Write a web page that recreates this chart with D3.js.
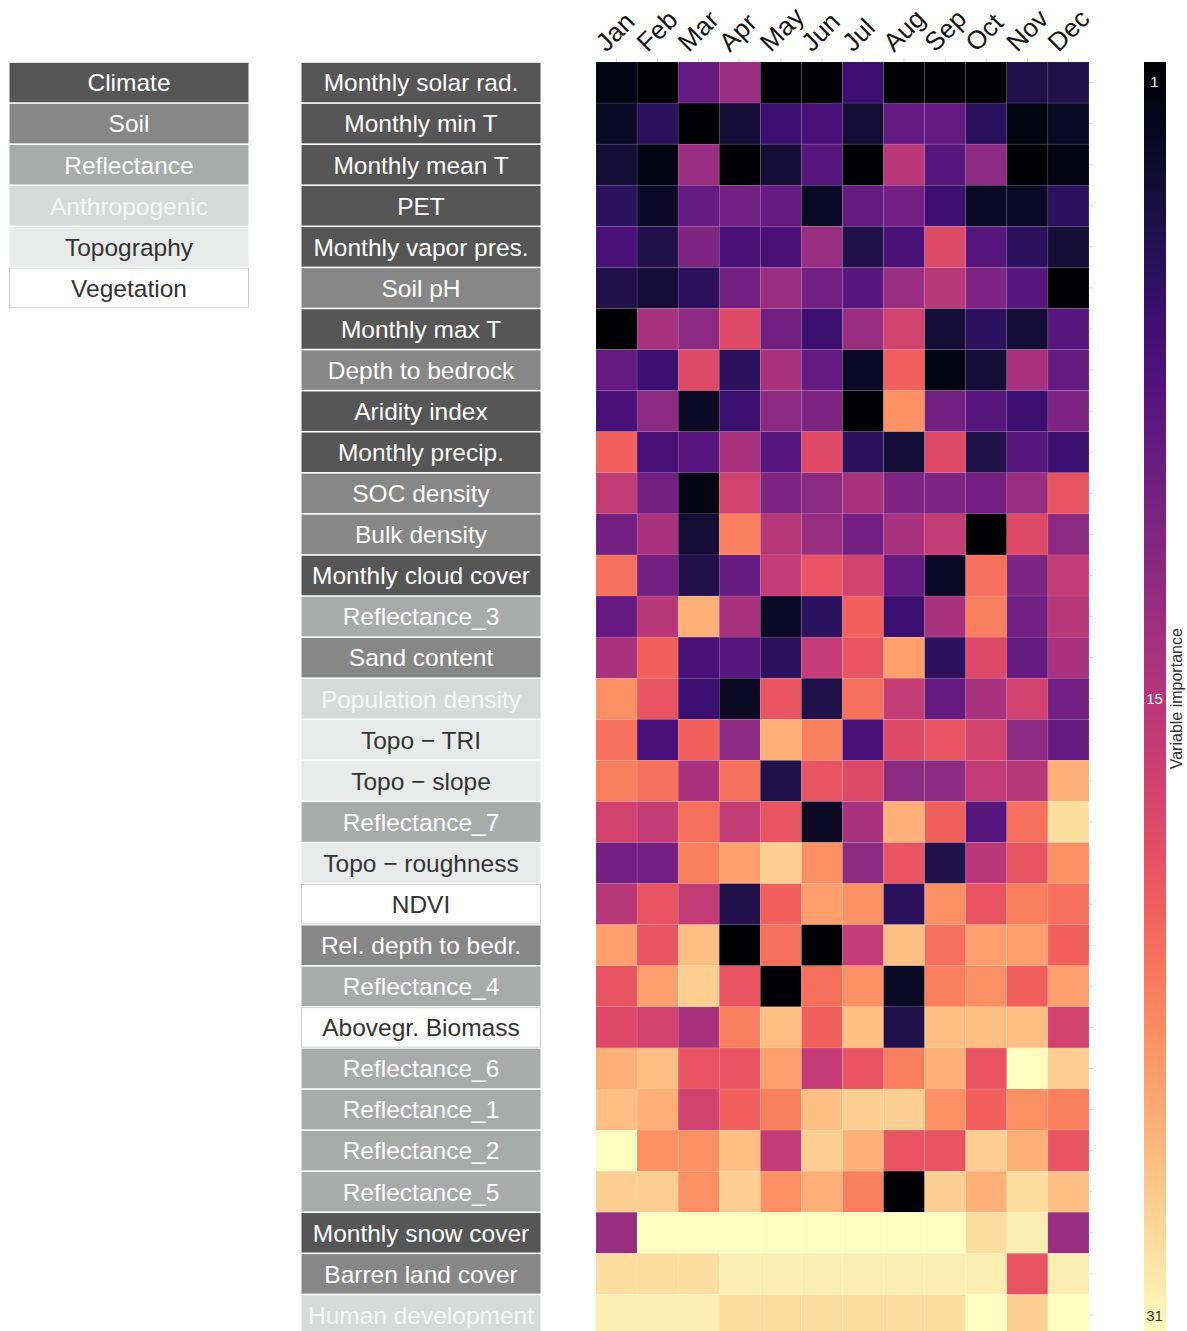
<!DOCTYPE html>
<html>
<head>
<meta charset="utf-8">
<script src="https://cdn.jsdelivr.net/npm/d3@7"></script>
<style>
  body { margin: 0; background: #ffffff; }
  svg { display: block; font-family: "Liberation Sans", Arial, sans-serif; }
</style>
</head>
<body>
<svg id="chart" width="1187" height="1331"></svg>
<script>
// Months along the top of the heatmap
const months = ["Jan", "Feb", "Mar", "Apr", "May", "Jun", "Jul", "Aug", "Sep", "Oct", "Nov", "Dec"];

// Predictor variables, top to bottom
const variables = [
  "Monthly solar rad.", "Monthly min T", "Monthly mean T", "PET", "Monthly vapor pres.",
  "Soil pH", "Monthly max T", "Depth to bedrock", "Aridity index", "Monthly precip.",
  "SOC density", "Bulk density", "Monthly cloud cover", "Reflectance_3", "Sand content",
  "Population density", "Topo \u2212 TRI", "Topo \u2212 slope", "Reflectance_7", "Topo \u2212 roughness",
  "NDVI", "Rel. depth to bedr.", "Reflectance_4", "Abovegr. Biomass", "Reflectance_6",
  "Reflectance_1", "Reflectance_2", "Reflectance_5", "Monthly snow cover", "Barren land cover",
  "Human development"
];

// Group each variable belongs to
const variableGroups = [
  "Climate", "Climate", "Climate", "Climate", "Climate",
  "Soil", "Climate", "Soil", "Climate", "Climate",
  "Soil", "Soil", "Climate", "Reflectance", "Soil",
  "Anthropogenic", "Topography", "Topography", "Reflectance", "Topography",
  "Vegetation", "Soil", "Reflectance", "Vegetation", "Reflectance",
  "Reflectance", "Reflectance", "Reflectance", "Climate", "Soil",
  "Anthropogenic"
];

// Group legend entries
const groups = ["Climate", "Soil", "Reflectance", "Anthropogenic", "Topography", "Vegetation"];

// Importance rank per variable (rows) and month (columns); 1 = most important
const importance = [
  [2, 1, 10, 14, 1, 1, 7, 1, 1, 1, 5, 5],
  [3, 6, 1, 4, 7, 8, 4, 10, 10, 6, 2, 3],
  [4, 2, 14, 1, 4, 9, 1, 16, 9, 13, 1, 2],
  [6, 3, 10, 11, 10, 3, 10, 11, 7, 3, 3, 6],
  [8, 5, 12, 8, 8, 14, 5, 8, 19, 9, 6, 4],
  [5, 4, 6, 11, 14, 11, 9, 14, 16, 12, 9, 1],
  [1, 15, 13, 19, 11, 7, 14, 18, 4, 6, 4, 9],
  [10, 7, 19, 6, 15, 10, 3, 21, 2, 4, 15, 10],
  [8, 13, 3, 7, 13, 12, 1, 24, 11, 9, 7, 12],
  [21, 8, 9, 15, 9, 19, 6, 4, 19, 5, 9, 7],
  [17, 11, 2, 18, 12, 13, 15, 12, 12, 11, 14, 20],
  [11, 15, 4, 23, 16, 14, 11, 15, 17, 1, 19, 13],
  [22, 11, 5, 10, 17, 20, 18, 10, 3, 22, 12, 17],
  [10, 16, 26, 15, 3, 6, 21, 7, 15, 23, 11, 16],
  [15, 21, 8, 9, 6, 17, 20, 25, 6, 19, 10, 15],
  [24, 20, 7, 3, 20, 5, 22, 17, 10, 15, 18, 11],
  [22, 8, 21, 13, 26, 23, 8, 19, 20, 18, 13, 10],
  [23, 22, 15, 22, 5, 20, 19, 13, 13, 17, 16, 26],
  [18, 17, 22, 17, 20, 3, 15, 26, 21, 9, 22, 29],
  [11, 11, 23, 25, 28, 24, 13, 20, 5, 16, 20, 24],
  [16, 20, 17, 5, 21, 25, 24, 6, 24, 20, 23, 22],
  [25, 20, 27, 1, 22, 1, 17, 27, 22, 25, 25, 21],
  [20, 25, 28, 20, 1, 22, 24, 3, 23, 24, 21, 25],
  [19, 18, 15, 23, 27, 21, 27, 5, 27, 27, 27, 18],
  [26, 27, 20, 20, 25, 17, 20, 23, 26, 20, 31, 28],
  [27, 26, 18, 21, 23, 27, 28, 28, 24, 21, 24, 23],
  [31, 24, 24, 27, 17, 28, 26, 20, 20, 28, 26, 20],
  [28, 28, 24, 28, 24, 26, 23, 1, 28, 26, 29, 27],
  [14, 31, 31, 31, 31, 31, 31, 31, 31, 29, 30, 14],
  [29, 29, 29, 30, 30, 30, 30, 30, 30, 30, 20, 30],
  [30, 30, 30, 29, 29, 29, 29, 29, 29, 31, 28, 31]
];

// Colour bar labels (top, middle, bottom)
const colorbarLabels = ["1", "15", "31"];
const rankDomain = [1, 31];

// ---- styling ----
const groupStyle = {
  Climate:       { fill: "#565656", text: "#ffffff", stroke: "none" },
  Soil:          { fill: "#878787", text: "#ffffff", stroke: "none" },
  Reflectance:   { fill: "#a9abab", text: "#ffffff", stroke: "none" },
  Anthropogenic: { fill: "#d8dada", text: "#f7f7f7", stroke: "none" },
  Topography:    { fill: "#e9ebeb", text: "#333333", stroke: "none" },
  Vegetation:    { fill: "#ffffff", text: "#333333", stroke: "#cfcfcf" }
};

const cell = 41.08;
const plotTop = 62;
const heatLeft = 596;
const svg = d3.select("#chart");

const x = d3.scaleBand().domain(months).range([heatLeft, heatLeft + cell * months.length]);
const y = d3.scaleBand().domain(variables).range([plotTop, plotTop + cell * variables.length]);
const color = d3.scaleSequential(d3.interpolateMagma).domain(rankDomain);

// faint axis ticks around the heatmap
const topAxis = svg.append("g").attr("transform", `translate(0,${plotTop})`)
  .call(d3.axisTop(x).tickSize(4).tickFormat(""));
topAxis.select(".domain").remove();
topAxis.selectAll("line").attr("stroke", "#dddddd");

const rightAxis = svg.append("g").attr("transform", `translate(${x.range()[1]},0)`)
  .call(d3.axisRight(y).tickSize(4).tickFormat(""));
rightAxis.select(".domain").remove();
rightAxis.selectAll("line").attr("stroke", "#dddddd");

// heatmap tiles
const cells = [];
importance.forEach((row, i) => row.forEach((v, j) => cells.push({ variable: variables[i], month: months[j], value: v })));

svg.append("g").selectAll("rect").data(cells).join("rect")
  .attr("x", d => x(d.month))
  .attr("y", d => y(d.variable))
  .attr("width", x.bandwidth())
  .attr("height", y.bandwidth())
  .attr("fill", d => color(d.value))
  .attr("stroke", "rgba(255,255,255,0.12)")
  .attr("stroke-width", 0.6);

// month labels, rotated
svg.append("g").selectAll("text").data(months).join("text")
  .attr("transform", d => `translate(${x(d) + x.bandwidth() / 2 - 10},53) rotate(-45)`)
  .attr("text-anchor", "start")
  .attr("font-size", 26)
  .attr("fill", "#141414")
  .text(d => d);

// variable label boxes
const boxX = 301, boxW = 240;
const labels = svg.append("g").selectAll("g").data(variables).join("g")
  .attr("transform", d => `translate(${boxX},${y(d)})`);
labels.append("rect")
  .attr("x", 0.5).attr("y", 0.8)
  .attr("width", boxW - 1).attr("height", y.bandwidth() - 1.6)
  .attr("fill", (d, i) => groupStyle[variableGroups[i]].fill)
  .attr("stroke", (d, i) => groupStyle[variableGroups[i]].stroke);
labels.append("text")
  .attr("x", boxW / 2).attr("y", y.bandwidth() / 2)
  .attr("dy", "0.36em")
  .attr("text-anchor", "middle")
  .attr("font-size", 24.5)
  .attr("fill", (d, i) => groupStyle[variableGroups[i]].text)
  .text(d => d);

// group legend
const yg = d3.scaleBand().domain(groups).range([plotTop, plotTop + cell * groups.length]);
const legendX = 9, legendW = 240;
const legend = svg.append("g").selectAll("g").data(groups).join("g")
  .attr("transform", d => `translate(${legendX},${yg(d)})`);
legend.append("rect")
  .attr("x", 0.5).attr("y", 0.8)
  .attr("width", legendW - 1).attr("height", yg.bandwidth() - 1.6)
  .attr("fill", d => groupStyle[d].fill)
  .attr("stroke", d => groupStyle[d].stroke);
legend.append("text")
  .attr("x", legendW / 2).attr("y", yg.bandwidth() / 2)
  .attr("dy", "0.36em")
  .attr("text-anchor", "middle")
  .attr("font-size", 24.5)
  .attr("fill", d => groupStyle[d].text)
  .text(d => d);

// colour bar
const barX = 1144, barW = 22, barTop = plotTop, barH = cell * variables.length;
const grad = svg.append("defs").append("linearGradient")
  .attr("id", "rankGradient").attr("x1", 0).attr("x2", 0).attr("y1", 0).attr("y2", 1);
d3.range(0, 1.0001, 0.05).forEach(t => {
  grad.append("stop").attr("offset", t).attr("stop-color", color(rankDomain[0] + t * (rankDomain[1] - rankDomain[0])));
});
svg.append("rect")
  .attr("x", barX).attr("y", barTop).attr("width", barW).attr("height", barH)
  .attr("fill", "url(#rankGradient)");

const labelPos = d3.scalePoint().domain(colorbarLabels).range([barTop + 20, barTop + barH - 20]);
svg.append("g").selectAll("text").data(colorbarLabels).join("text")
  .attr("x", barX + barW / 2 - 0.5)
  .attr("y", d => labelPos(d))
  .attr("dy", "0.36em")
  .attr("text-anchor", "middle")
  .attr("font-size", 15)
  .attr("fill", (d, i) => i === colorbarLabels.length - 1 ? "#333333" : "#ffffff")
  .text(d => d);

svg.append("text")
  .attr("transform", `translate(1182,${barTop + barH / 2}) rotate(-90)`)
  .attr("text-anchor", "middle")
  .attr("font-size", 16)
  .attr("fill", "#333333")
  .text("Variable importance");
</script>
</body>
</html>
